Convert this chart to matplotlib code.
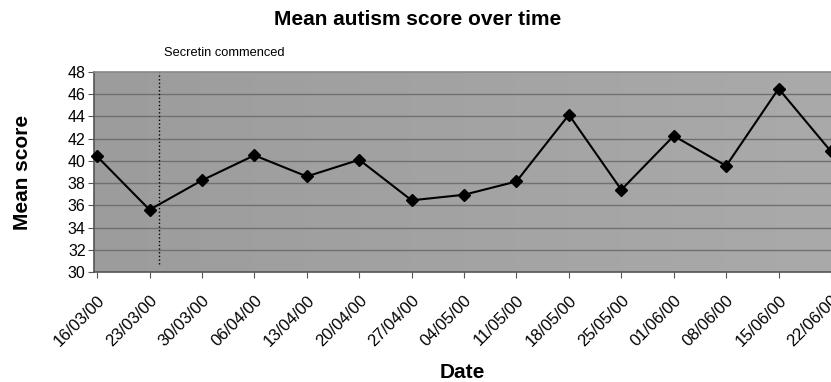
import matplotlib
matplotlib.use("Agg")
import matplotlib.pyplot as plt
import matplotlib.transforms as mtransforms
import numpy as np

plt.rcParams["font.family"] = ["Liberation Sans", "DejaVu Sans"]

# --------------------------------------------------------------------------- #
# Data
# --------------------------------------------------------------------------- #
dates = ["16/03/00", "23/03/00", "30/03/00", "06/04/00", "13/04/00",
         "20/04/00", "27/04/00", "04/05/00", "11/05/00", "18/05/00",
         "25/05/00", "01/06/00", "08/06/00", "15/06/00", "22/06/00"]
mean_score = [40.4, 35.6, 38.25, 40.5, 38.6,
              40.1, 36.45, 36.95, 38.15, 44.15,
              37.4, 42.25, 39.55, 46.5, 40.85]
y_ticks = [30, 32, 34, 36, 38, 40, 42, 44, 46, 48]
secretin_pos = 1.18          # category position of the "commenced" marker
secretin_range = (30.7, 48)

# --------------------------------------------------------------------------- #
# Plot
# --------------------------------------------------------------------------- #
fig = plt.figure(figsize=(8.31, 3.82), dpi=100)
ax = fig.add_axes([0.1131, 0.288, 0.8869, 0.5235])

x = np.arange(len(dates))

# gray gradient plot area, like the old spreadsheet chart
grad = np.linspace(0.0, 1.0, 256).reshape(1, -1)
ax.imshow(grad, extent=[-0.06, 14.0, 30, 48], aspect="auto",
          cmap=matplotlib.colors.LinearSegmentedColormap.from_list(
              "bg", ["#9c9c9c", "#aaaaaa"]), zorder=0)

for yv in y_ticks[1:-1]:
    ax.axhline(yv, color="#707070", linewidth=1.0, zorder=1)

ax.plot(x, mean_score, color="black", linewidth=1.5, marker="D",
        markersize=6.5, zorder=3, clip_on=False)

ax.vlines(secretin_pos, *secretin_range, colors="black", linestyles=":",
          linewidth=1.0, zorder=2)
ax.text(secretin_pos + 0.1, 49.2, "Secretin commenced", fontsize=9.3,
        ha="left", va="bottom")

ax.set_xlim(-0.06, 14.0)
ax.set_ylim(30, 48)
ax.set_yticks(y_ticks)
ax.set_xticks(x)
ax.set_xticklabels(dates, rotation=45, ha="right", rotation_mode="anchor",
                   fontsize=12)
# nudge rotated labels so their ends sit just at the tick
shift = mtransforms.ScaledTranslation(-4 / 100, 0, fig.dpi_scale_trans)
for lab in ax.get_xticklabels():
    lab.set_transform(lab.get_transform() + shift)

ax.tick_params(axis="y", labelsize=11.5, length=4, direction="out",
               color="#555555", pad=2)
ax.tick_params(axis="x", length=4, direction="out", color="#555555", pad=11)

for side in ["left", "bottom", "top"]:
    ax.spines[side].set_color("#555555")
    ax.spines[side].set_linewidth(1.2)
ax.spines["top"].set_color("#888888")
ax.spines["right"].set_visible(False)

ax.set_ylabel("Mean score", fontsize=15, fontweight="bold", labelpad=26)
ax.set_xlabel("Date", fontsize=15, fontweight="bold", labelpad=10)
fig.suptitle("Mean autism score over time", fontsize=15, fontweight="bold",
             x=0.503, y=0.975)

fig.savefig("out.png", dpi=100)
